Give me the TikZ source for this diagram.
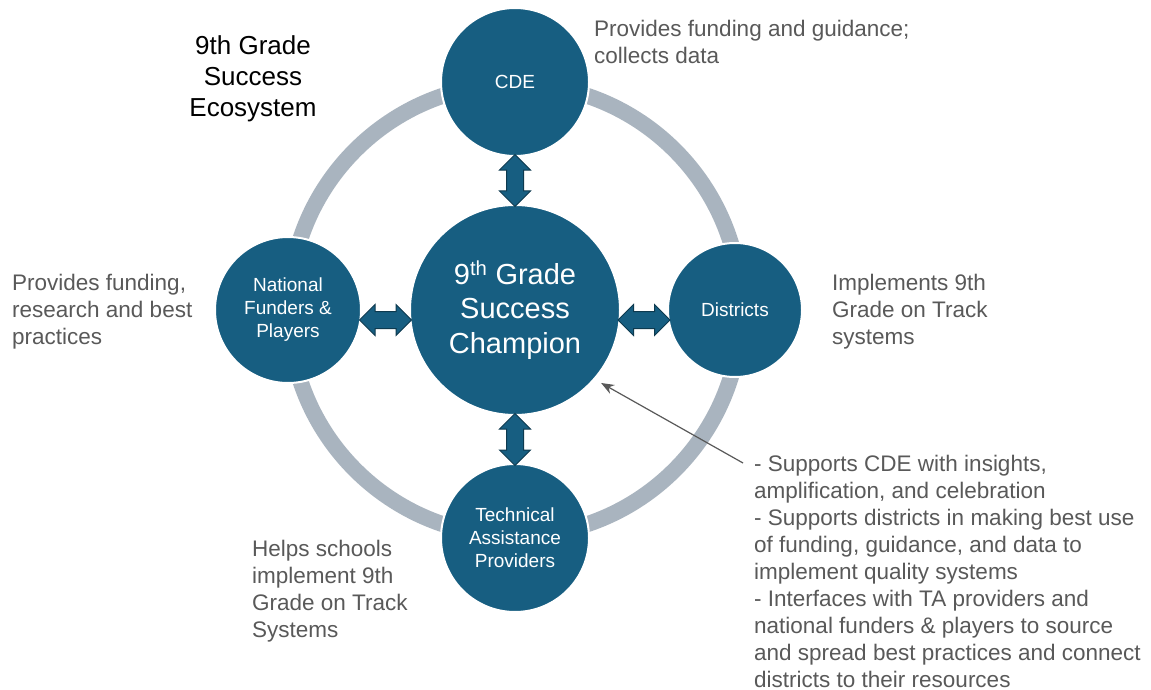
\documentclass[tikz,border=0pt]{standalone}
\usepackage{fontspec}
\setmainfont{Liberation Sans}
\usetikzlibrary{shapes.arrows,calc,arrows.meta}
\definecolor{hubblue}{HTML}{175E81}
\definecolor{ringgray}{HTML}{A9B4BF}
\definecolor{notegray}{HTML}{595959}
\definecolor{arrowline}{HTML}{0E3A4F}
\tikzset{
  actor/.style={circle, fill=hubblue, draw=white, line width=2pt, text=white,
    align=center, inner sep=0pt, font=\fontsize{19}{23}\selectfont},
  dblarrow/.style={double arrow, fill=hubblue, draw=arrowline, line width=1pt,
    minimum height=52pt, inner xsep=0pt, inner ysep=8pt, double arrow head extend=7pt},
  note/.style={text=notegray, align=left, anchor=north west, inner sep=0pt,
    font=\fontsize{22.5}{27}\selectfont},
  ring/.style={draw=ringgray, line width=16pt},
  pointer/.style={draw=notegray, line width=1.2pt, -{Stealth[length=13pt,width=10pt]}},
}
\begin{document}
\begin{tikzpicture}[x=1pt,y=-1pt]
\fill[white] (0,0) rectangle (1151,690);
\useasboundingbox (0,0) rectangle (1151,690);
% ring behind the actors
\draw[ring] (515,310) circle (226pt);
\node[actor, minimum size=148pt] (cde) at (515,82) {CDE};
\node[actor, minimum size=210pt, font=\fontsize{29}{34.5}\selectfont] (champ) at (515,310) {9\textsuperscript{th} Grade\\Success\\Champion};
\node[actor, minimum size=146pt] (nat) at (288,310) {National\\Funders \&\\Players};
\node[actor, minimum size=134pt] (dist) at (735,310) {Districts};
\node[actor, minimum size=148pt] (ta) at (515,538) {Technical\\Assistance\\Providers};
% two-way links
\node[dblarrow, rotate=90] (cdelink) at ($(cde.south)!0.5!(champ.north)$) {};
\node[dblarrow] (natlink) at ($(nat.east)!0.5!(champ.west)+(0,10)$) {};
\node[dblarrow] (distlink) at ($(champ.east)!0.5!(dist.west)+(0,10)$) {};
\node[dblarrow, rotate=90] (talink) at ($(champ.south)!0.5!(ta.north)$) {};
% title and notes
\node[align=center, anchor=north, inner sep=0pt, font=\fontsize{26}{31}\selectfont] (title) at (253,35) {9th Grade\\Success\\Ecosystem};
\node[note] (cdenote) at (594,20) {Provides funding and guidance;\\collects data};
\node[note] (natnote) at (12,274) {Provides funding,\\research and best\\practices};
\node[note] (distnote) at (832,274) {Implements 9th\\Grade on Track\\systems};
\node[note] (tanote) at (252,540) {Helps schools\\implement 9th\\Grade on Track\\Systems};
\node[note] (champnote) at (754,455) {- Supports CDE with insights,\\amplification, and celebration\\- Supports districts in making best use\\of funding, guidance, and data to\\implement quality systems\\- Interfaces with TA providers and\\national funders \& players to source\\and spread best practices and connect\\districts to their resources};
\coordinate (tail) at (743,463);
\draw[pointer, shorten >=7pt] (tail) -- (champ.-41);
\end{tikzpicture}
\end{document}
